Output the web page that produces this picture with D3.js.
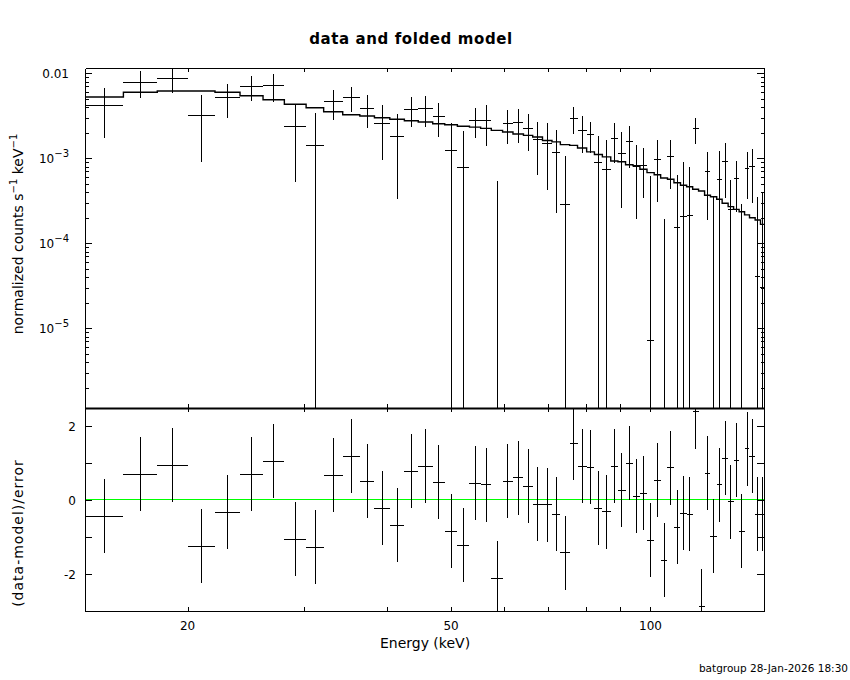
<!DOCTYPE html>
<html>
<head>
<meta charset="utf-8">
<title>data and folded model</title>
<script src="https://d3js.org/d3.v7.min.js"></script>
<style>
  body { margin: 0; background: #fff; }
  svg { display: block; background: #fff; }
  .ax path, .ax line { stroke: #000; stroke-width: 1px; fill: none; shape-rendering: crispEdges; }
  .lbl { font-family: "DejaVu Sans", sans-serif; fill: #000; }
  .cross { stroke: #000; stroke-width: 1px; shape-rendering: crispEdges; }
  .model { fill: none; stroke: #000; stroke-width: 1.4px; }
</style>
</head>
<body>
<script>
// energy bin edges (keV)
var binEdges = [14.0, 16.0, 18.0, 20.0, 22.0, 24.0, 26.0, 28.0, 30.2, 32.1,
  34.3, 36.4, 38.3, 40.4, 42.5, 44.6, 46.9, 48.9, 51.1, 53.3,
  55.4, 57.5, 59.8, 62.0, 64.3, 66.4, 68.7, 71.0, 73.1, 75.5,
  77.6, 80.1, 82.3, 84.6, 87.1, 89.3, 91.7, 94.1, 96.4, 98.8,
  101.3, 103.6, 106.1, 108.5, 111.0, 113.4, 115.8, 118.2, 120.7, 123.2,
  125.9, 128.3, 131.0, 133.5, 136.1, 138.7, 141.1, 143.9, 146.6, 148.9];

// normalized counts s^-1 keV^-1
var dataRate = [4.20e-3, 7.90e-3, 8.73e-3, 3.21e-3, 5.22e-3, 7.03e-3, 7.22e-3, 2.38e-3, 1.42e-3, 4.60e-3,
  5.22e-3, 3.88e-3, 2.58e-3, 1.81e-3, 3.77e-3, 3.88e-3, 3.12e-3, 1.24e-3, 7.90e-4, 2.82e-3,
  2.82e-3, -8.7e-4, 2.58e-3, 2.67e-3, 2.27e-3, 1.65e-3, 1.50e-3, 1.18e-3, 2.88e-4, 2.96e-3,
  2.15e-3, 1.92e-3, 9.04e-4, 7.42e-4, 1.73e-3, 1.15e-3, 1.58e-3, 8.11e-4, 8.27e-4, 7.1e-6,
  9.73e-4, -4.2e-4, 1.04e-3, 1.54e-4, 2.08e-4, 2.13e-4, 2.23e-3, -5.96e-4, 6.9e-4, -1.5e-5,
  5.66e-4, 9.22e-4, 2.47e-4, 5.82e-4, -1.15e-4, 7.62e-4, 7.91e-4, 4.05e-5, 3.0e-5];

var dataErr = [2.46e-3, 2.74e-3, 2.82e-3, 2.30e-3, 2.26e-3, 2.26e-3, 2.59e-3, 1.86e-3, 1.96e-3, 1.76e-3,
  1.68e-3, 1.63e-3, 1.62e-3, 1.48e-3, 1.45e-3, 1.53e-3, 1.32e-3, 1.38e-3, 1.29e-3, 1.09e-3,
  1.42e-3, 1.41e-3, 1.09e-3, 1.16e-3, 1.05e-3, 1.02e-3, 1.08e-3, 9.5e-4, 7.9e-4, 1.05e-3,
  1.00e-3, 7.5e-4, 9.3e-4, 9.0e-4, 8.5e-4, 8.9e-4, 8.2e-4, 6.2e-4, 4.9e-4, 6.1e-4,
  6.7e-4, 6.14e-4, 6.0e-4, 4.87e-4, 6.97e-4, 5.83e-4, 7.6e-4, 3.5e-4, 5.0e-4, 3.7e-4,
  6.5e-4, 5.8e-4, 3.1e-4, 3.47e-4, 4.07e-4, 4.28e-4, 4.9e-4, 3.1e-4, 3.6e-4];

var modelRate = [5.26e-3, 5.98e-3, 6.19e-3, 6.19e-3, 5.98e-3, 5.45e-3, 4.89e-3, 4.32e-3, 3.94e-3, 3.53e-3,
  3.26e-3, 3.15e-3, 3.00e-3, 2.88e-3, 2.77e-3, 2.67e-3, 2.55e-3, 2.48e-3, 2.38e-3, 2.33e-3,
  2.25e-3, 2.13e-3, 2.04e-3, 1.93e-3, 1.86e-3, 1.78e-3, 1.62e-3, 1.56e-3, 1.45e-3, 1.42e-3,
  1.32e-3, 1.19e-3, 1.11e-3, 1.04e-3, 9.29e-4, 9.12e-4, 8.41e-4, 8.18e-4, 7.42e-4, 6.78e-4,
  6.41e-4, 5.86e-4, 5.66e-4, 5.16e-4, 4.81e-4, 4.63e-4, 4.32e-4, 4.12e-4, 3.67e-4, 3.53e-4,
  3.30e-4, 2.96e-4, 2.70e-4, 2.51e-4, 2.35e-4, 2.16e-4, 2.00e-4, 1.88e-4, 1.67e-4];

// (data-model)/error
var residual = [-0.45, 0.685, 0.93, -1.26, -0.34, 0.685, 1.04, -1.07, -1.29, 0.66,
  1.17, 0.50, -0.23, -0.69, 0.77, 0.90, 0.47, -0.86, -1.23, 0.44,
  0.41, -2.13, 0.50, 0.59, 0.36, -0.13, -0.14, -0.39, -1.44, 1.52,
  0.90, 0.88, -0.23, -0.32, 0.90, 0.25, 0.98, 0.09, 0.17, -1.10,
  0.52, -1.64, 0.86, -0.75, -0.37, -0.39, 2.37, -2.88, 0.71, -0.99,
  0.41, 1.12, -0.05, 1.06, -0.86, 1.37, 1.17, -0.39, -0.39];
var residualErr = 1;

var xTicks = [20, 30, 40, 50, 60, 70, 80, 90, 100];
var xTickLabels = ["20", "50", "100"];
var xLabelVals = [20, 50, 100];
var yMajor = [1e-2, 1e-3, 1e-4, 1e-5];
var yMajorBase = ["0.01", "10", "10", "10"];
var yMajorExp = ["", "\u22123", "\u22124", "\u22125"];
var resTicks = [-2, -1, 0, 1, 2];
var resLabelVals = [-2, 0, 2];
var resLabels = ["-2", "0", "2"];

var W = 850, H = 680;
var L = 85, R = 764, T = 68, MID = 408, B = 611;

var svg = d3.select("body").append("svg").attr("width", W).attr("height", H);
svg.append("rect").attr("width", W).attr("height", H).attr("fill", "#fff");

var x = d3.scaleLog().domain([14.0, 148.4]).range([L, R]);
var yTop = d3.scaleLog().domain([1.154e-6, 1.1545e-2]).range([MID, T]);
var yRes = d3.scaleLinear().domain([-3.009, 2.478]).range([B, MID]);
var yMin = yTop.domain()[0];

var bins = dataRate.map(function(d, i) {
  return {lo: binEdges[i], hi: binEdges[i + 1], d: d, e: dataErr[i], m: modelRate[i], r: residual[i]};
});

// clip paths
var defs = svg.append("defs");
defs.append("clipPath").attr("id", "clipTop").append("rect")
  .attr("x", L).attr("y", T).attr("width", R - L).attr("height", MID - T);
defs.append("clipPath").attr("id", "clipRes").append("rect")
  .attr("x", L).attr("y", MID).attr("width", R - L).attr("height", B - MID);

function yv(v) { return v > yMin ? yTop(v) : yTop(yMin) + 2; }

// ---- top panel: data and folded model
var topG = svg.append("g").attr("clip-path", "url(#clipTop)");

var steps = bins.map(function(b) { return {e: b.lo, v: b.m}; });
steps.push({e: bins[bins.length - 1].hi, v: bins[bins.length - 1].m});
topG.append("path")
  .datum(steps)
  .attr("class", "model")
  .attr("d", d3.line().curve(d3.curveStepAfter)
    .x(function(d) { return x(d.e); })
    .y(function(d) { return yTop(d.v); }));

bins.forEach(function(b) {
  var xc = x((b.lo + b.hi) / 2);
  if (b.d > yMin) {
    topG.append("line").attr("class", "cross")
      .attr("x1", x(b.lo)).attr("x2", x(b.hi))
      .attr("y1", yTop(b.d)).attr("y2", yTop(b.d));
  }
  if (b.d + b.e > yMin) {
    topG.append("line").attr("class", "cross")
      .attr("x1", xc).attr("x2", xc)
      .attr("y1", yv(b.d - b.e)).attr("y2", yTop(b.d + b.e));
  }
});

// ---- bottom panel: residuals
var resG = svg.append("g").attr("clip-path", "url(#clipRes)");
resG.append("line")
  .attr("x1", L).attr("x2", R)
  .attr("y1", yRes(0)).attr("y2", yRes(0))
  .attr("stroke", "#00ff00").attr("stroke-width", 1).attr("shape-rendering", "crispEdges");

bins.forEach(function(b) {
  var xc = x((b.lo + b.hi) / 2);
  resG.append("line").attr("class", "cross")
    .attr("x1", x(b.lo)).attr("x2", x(b.hi))
    .attr("y1", yRes(b.r)).attr("y2", yRes(b.r));
  resG.append("line").attr("class", "cross")
    .attr("x1", xc).attr("x2", xc)
    .attr("y1", yRes(b.r - residualErr)).attr("y2", yRes(b.r + residualErr));
});

// ---- axes (ticks inside, PGPLOT style)
function addAxis(axis, tx, ty) {
  var g = svg.append("g").attr("class", "ax")
    .attr("transform", "translate(" + tx + "," + ty + ")")
    .call(axis);
  g.selectAll("text").remove();
  return g;
}

var yMinor = [];
for (var k = -6; k <= -2; k++) {
  for (var j = 2; j <= 9; j++) {
    var v = j * Math.pow(10, k);
    if (v > yMin && v < yTop.domain()[1]) yMinor.push(v);
  }
}

addAxis(d3.axisLeft(yTop).tickValues(yMajor).tickSizeInner(-7).tickSizeOuter(0), L, 0);
addAxis(d3.axisLeft(yTop).tickValues(yMinor).tickSizeInner(-3.5).tickSizeOuter(0), L, 0);
addAxis(d3.axisRight(yTop).tickValues(yMajor).tickSizeInner(-7).tickSizeOuter(0), R, 0);
addAxis(d3.axisRight(yTop).tickValues(yMinor).tickSizeInner(-3.5).tickSizeOuter(0), R, 0);
addAxis(d3.axisTop(x).tickValues(xTicks).tickSizeInner(-4).tickSizeOuter(0), 0, T);
addAxis(d3.axisBottom(x).tickValues(xTicks).tickSizeInner(-4).tickSizeOuter(0), 0, MID);

addAxis(d3.axisLeft(yRes).tickValues(resTicks).tickSizeInner(-7).tickSizeOuter(0), L, 0);
addAxis(d3.axisRight(yRes).tickValues(resTicks).tickSizeInner(-7).tickSizeOuter(0), R, 0);
addAxis(d3.axisTop(x).tickValues(xTicks).tickSizeInner(-4).tickSizeOuter(0), 0, MID);
addAxis(d3.axisBottom(x).tickValues(xTicks).tickSizeInner(-4).tickSizeOuter(0), 0, B);

// shared heavier border between panels
svg.append("line").attr("x1", L).attr("x2", R).attr("y1", MID + 0.5).attr("y2", MID + 0.5)
  .attr("stroke", "#000").attr("stroke-width", 2);

// ---- tick labels
yMajor.forEach(function(v, i) {
  var t = svg.append("text").attr("class", "lbl")
    .attr("x", 69).attr("y", yTop(v) + 5)
    .attr("text-anchor", "end").attr("font-size", 12);
  t.append("tspan").text(yMajorBase[i]);
  if (yMajorExp[i]) t.append("tspan").attr("dy", -6).attr("font-size", 10).text(yMajorExp[i]);
});

resLabelVals.forEach(function(v, i) {
  svg.append("text").attr("class", "lbl")
    .attr("x", 76).attr("y", yRes(v) + 5)
    .attr("text-anchor", "end").attr("font-size", 12)
    .text(resLabels[i]);
});

xLabelVals.forEach(function(v, i) {
  svg.append("text").attr("class", "lbl")
    .attr("x", x(v)).attr("y", 630)
    .attr("text-anchor", "middle").attr("font-size", 12)
    .text(xTickLabels[i]);
});

// ---- titles
svg.append("text").attr("class", "lbl")
  .attr("x", 411).attr("y", 44)
  .attr("text-anchor", "middle").attr("font-size", 15).attr("font-weight", "bold")
  .attr("letter-spacing", 0.6)
  .text("data and folded model");

svg.append("text").attr("class", "lbl")
  .attr("x", 425).attr("y", 648)
  .attr("text-anchor", "middle").attr("font-size", 14)
  .text("Energy (keV)");

var yl = svg.append("text").attr("class", "lbl")
  .attr("transform", "translate(23,234) rotate(-90)")
  .attr("text-anchor", "middle").attr("font-size", 14);
yl.append("tspan").text("normalized counts s");
yl.append("tspan").attr("dy", -6).attr("font-size", 10).text("\u22121");
yl.append("tspan").attr("dy", 6).text(" keV");
yl.append("tspan").attr("dy", -6).attr("font-size", 10).text("\u22121");

svg.append("text").attr("class", "lbl")
  .attr("transform", "translate(23,533) rotate(-90)")
  .attr("text-anchor", "middle").attr("font-size", 14)
  .attr("letter-spacing", 1)
  .text("(data-model)/error");

svg.append("text").attr("class", "lbl")
  .attr("x", 848).attr("y", 672)
  .attr("text-anchor", "end").attr("font-size", 10.5)
  .text("batgroup 28-Jan-2026 18:30");
</script>
</body>
</html>
